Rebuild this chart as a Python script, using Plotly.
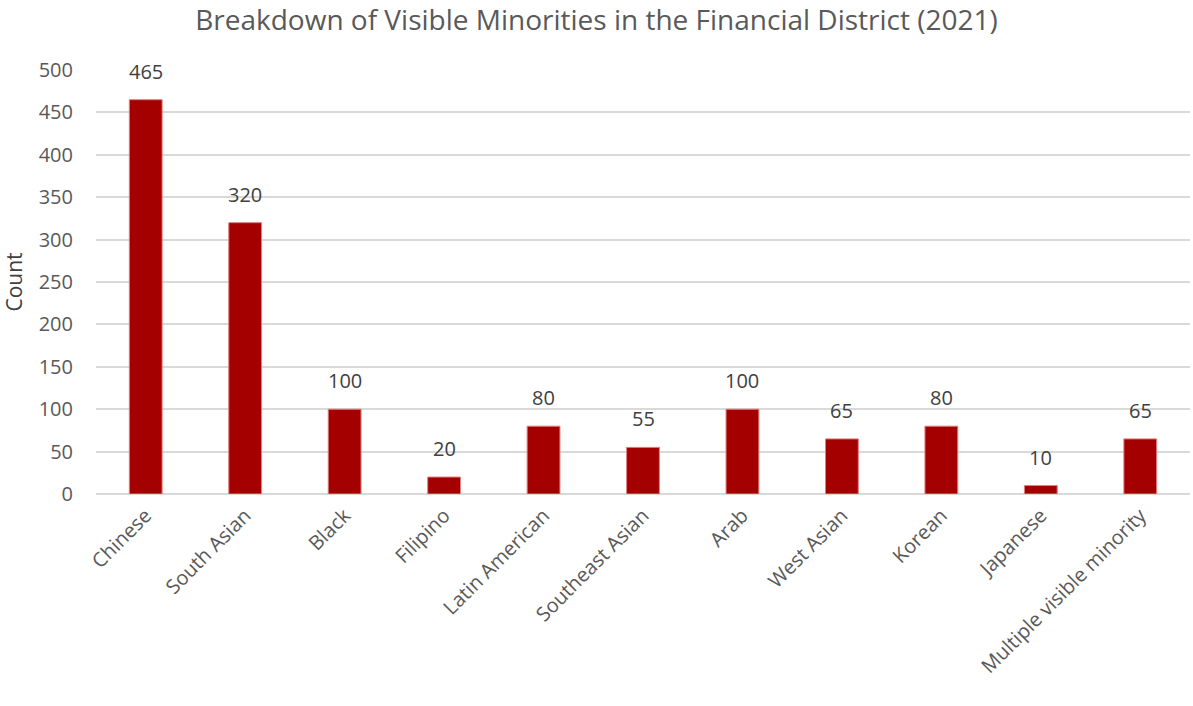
import plotly.graph_objects as go

categories = ["Chinese", "South Asian", "Black", "Filipino", "Latin American",
              "Southeast Asian", "Arab", "West Asian", "Korean", "Japanese",
              "Multiple visible minority"]
counts = [465, 320, 100, 20, 80, 55, 100, 65, 80, 10, 65]
y_ticks = [0, 50, 100, 150, 200, 250, 300, 350, 400, 450, 500]

font_family = "Open Sans, Lato, sans-serif"

fig = go.Figure(go.Bar(
    x=categories, y=counts,
    marker=dict(color="#A50000", line=dict(color="#E08080", width=1)),
    showlegend=False,
))

for c, v in zip(categories, counts):
    fig.add_annotation(x=c, y=v, text=str(v), showarrow=False, yanchor="bottom",
                       yshift=13, font=dict(size=20, color="#404040", family=font_family))

fig.update_layout(
    width=1193, height=706,
    margin=dict(l=96, r=3, t=70, b=212, autoexpand=False),
    paper_bgcolor="white", plot_bgcolor="white",
    title=dict(text="Breakdown of Visible Minorities in the Financial District (2021)",
               x=0.5, xanchor="center", y=1 - 20 / 706, yanchor="middle",
               font=dict(size=28, color="#595959", family=font_family)),
    bargap=0.67,
    showlegend=False,
    font=dict(family=font_family, color="#595959"),
)
fig.update_yaxes(range=[0, 500], tickvals=y_ticks, showgrid=True,
                 gridcolor="#D9D9D9", gridwidth=1.5, zeroline=True, zerolinecolor="#D9D9D9",
                 zerolinewidth=1.5, showline=False,
                 tickfont=dict(size=20, color="#595959"), ticks="", ticklabelstandoff=22,
                 title=dict(text="Count", font=dict(size=21, color="#404040"), standoff=12))
fig.update_xaxes(tickangle=-45, tickfont=dict(size=20, color="#595959"), showline=False,
                 ticks="", ticklabelstandoff=5)

fig.write_html("out.html")
